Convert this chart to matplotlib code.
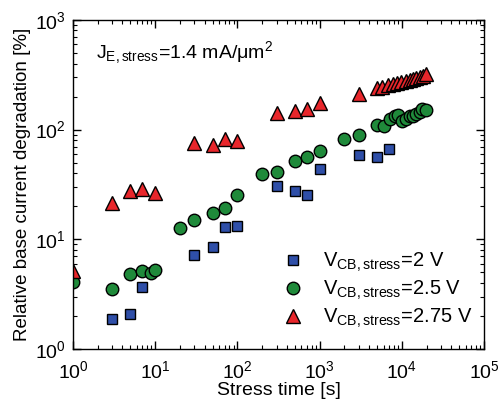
import numpy as np
import matplotlib
matplotlib.use('Agg')
from matplotlib import pyplot as plt
from matplotlib.ticker import LogLocator, NullFormatter

plt.rcParams['font.family'] = ['Liberation Sans', 'DejaVu Sans']
plt.rcParams['mathtext.fontset'] = 'custom'
plt.rcParams['mathtext.rm'] = 'Liberation Sans'
plt.rcParams['mathtext.it'] = 'Liberation Sans:italic'

# V_CB = 2 V
t_2 = [3, 5, 7, 30, 50, 70, 100, 300, 500, 700, 1000, 3000, 5000, 7000]
v_2 = [1.9, 2.1, 3.65, 7.2, 8.45, 12.9, 13.3, 30.8, 27.8, 25.2, 44, 59, 56.6, 67]

# V_CB = 2.5 V
t_25 = [1, 3, 5, 7, 9, 10, 20, 30, 50, 70, 100, 200, 300, 500, 700, 1000,
        2000, 3000, 5000, 6000, 7100, 8200, 9000, 10150, 11350, 12500,
        13700, 15000, 16500, 17800, 19900]
v_25 = [4.1, 3.55, 4.8, 5.2, 4.9, 5.3, 12.6, 14.9, 17.4, 19.2, 25.2, 39, 41.1,
        51.4, 55.8, 63.7, 82.4, 89.5, 110, 108.6, 126, 132, 136, 120.6, 126,
        132, 134, 138.6, 145.6, 153.8, 150.7]

# V_CB = 2.75 V
t_275 = [1, 3, 5, 7, 10, 30, 50, 70, 100, 300, 500, 700, 1000, 3000, 5000,
         5800, 6800, 7800, 8700, 9870, 11350, 12500, 13700, 15000, 16500,
         18100, 19900]
v_275 = [5.1, 21.4, 27.4, 28.7, 26.6, 75.8, 72.7, 82.3, 79.5, 143, 148.5, 154,
         174, 210, 241.6, 246.5, 253.6, 258.9, 268, 271.8, 277.6, 283.4, 291,
         295.4, 303.5, 307.7, 318]

labels = [r'V$_{\mathrm{CB,stress}}$=2 V',
          r'V$_{\mathrm{CB,stress}}$=2.5 V',
          r'V$_{\mathrm{CB,stress}}$=2.75 V']

fig = plt.figure(figsize=(5, 4.05), dpi=100)
ax = fig.add_axes([0.146, 0.138, 0.822, 0.813])

ax.plot(t_2, v_2, 's', color='#2f4fa8', mec='black', mew=1.0, ms=7.5, label=labels[0])
ax.plot(t_25, v_25, 'o', color='#1f8a3a', mec='black', mew=1.0, ms=9, label=labels[1])
ax.plot(t_275, v_275, '^', color='#e8262b', mec='black', mew=1.0, ms=9.5, label=labels[2])

ax.set_xscale('log')
ax.set_yscale('log')
ax.set_xlim(1, 1e5)
ax.set_ylim(1, 1e3)

ax.xaxis.set_major_locator(LogLocator(base=10, numticks=10))
ax.xaxis.set_minor_locator(LogLocator(base=10, subs=np.arange(2, 10), numticks=10))
ax.yaxis.set_major_locator(LogLocator(base=10, numticks=10))
ax.yaxis.set_minor_locator(LogLocator(base=10, subs=np.arange(2, 10), numticks=10))
ax.xaxis.set_minor_formatter(NullFormatter())
ax.yaxis.set_minor_formatter(NullFormatter())

ax.tick_params(which='both', direction='in', top=True, right=True, labelsize=14)
ax.tick_params(axis='x', which='major', pad=8)
ax.tick_params(axis='y', which='major', pad=5)
ax.tick_params(which='major', length=6, width=1)
ax.tick_params(which='minor', length=3, width=0.8)
for s in ax.spines.values():
    s.set_linewidth(1.0)

ax.set_xlabel('Stress time [s]', fontsize=14, labelpad=0)
ax.set_ylabel('Relative base current degradation [%]', fontsize=13.5, labelpad=3)

ax.text(0.055, 0.9, r'J$_{\mathrm{E,stress}}$=1.4 mA/$\mathrm{\mu}$m$^2$',
        transform=ax.transAxes, fontsize=14, va='center')

ax.legend(loc='lower right', frameon=False, fontsize=14.5, handletextpad=0.45,
          borderaxespad=0.2, labelspacing=0.25, bbox_to_anchor=(1.0, 0.02))

fig.savefig('out.png', dpi=100)
